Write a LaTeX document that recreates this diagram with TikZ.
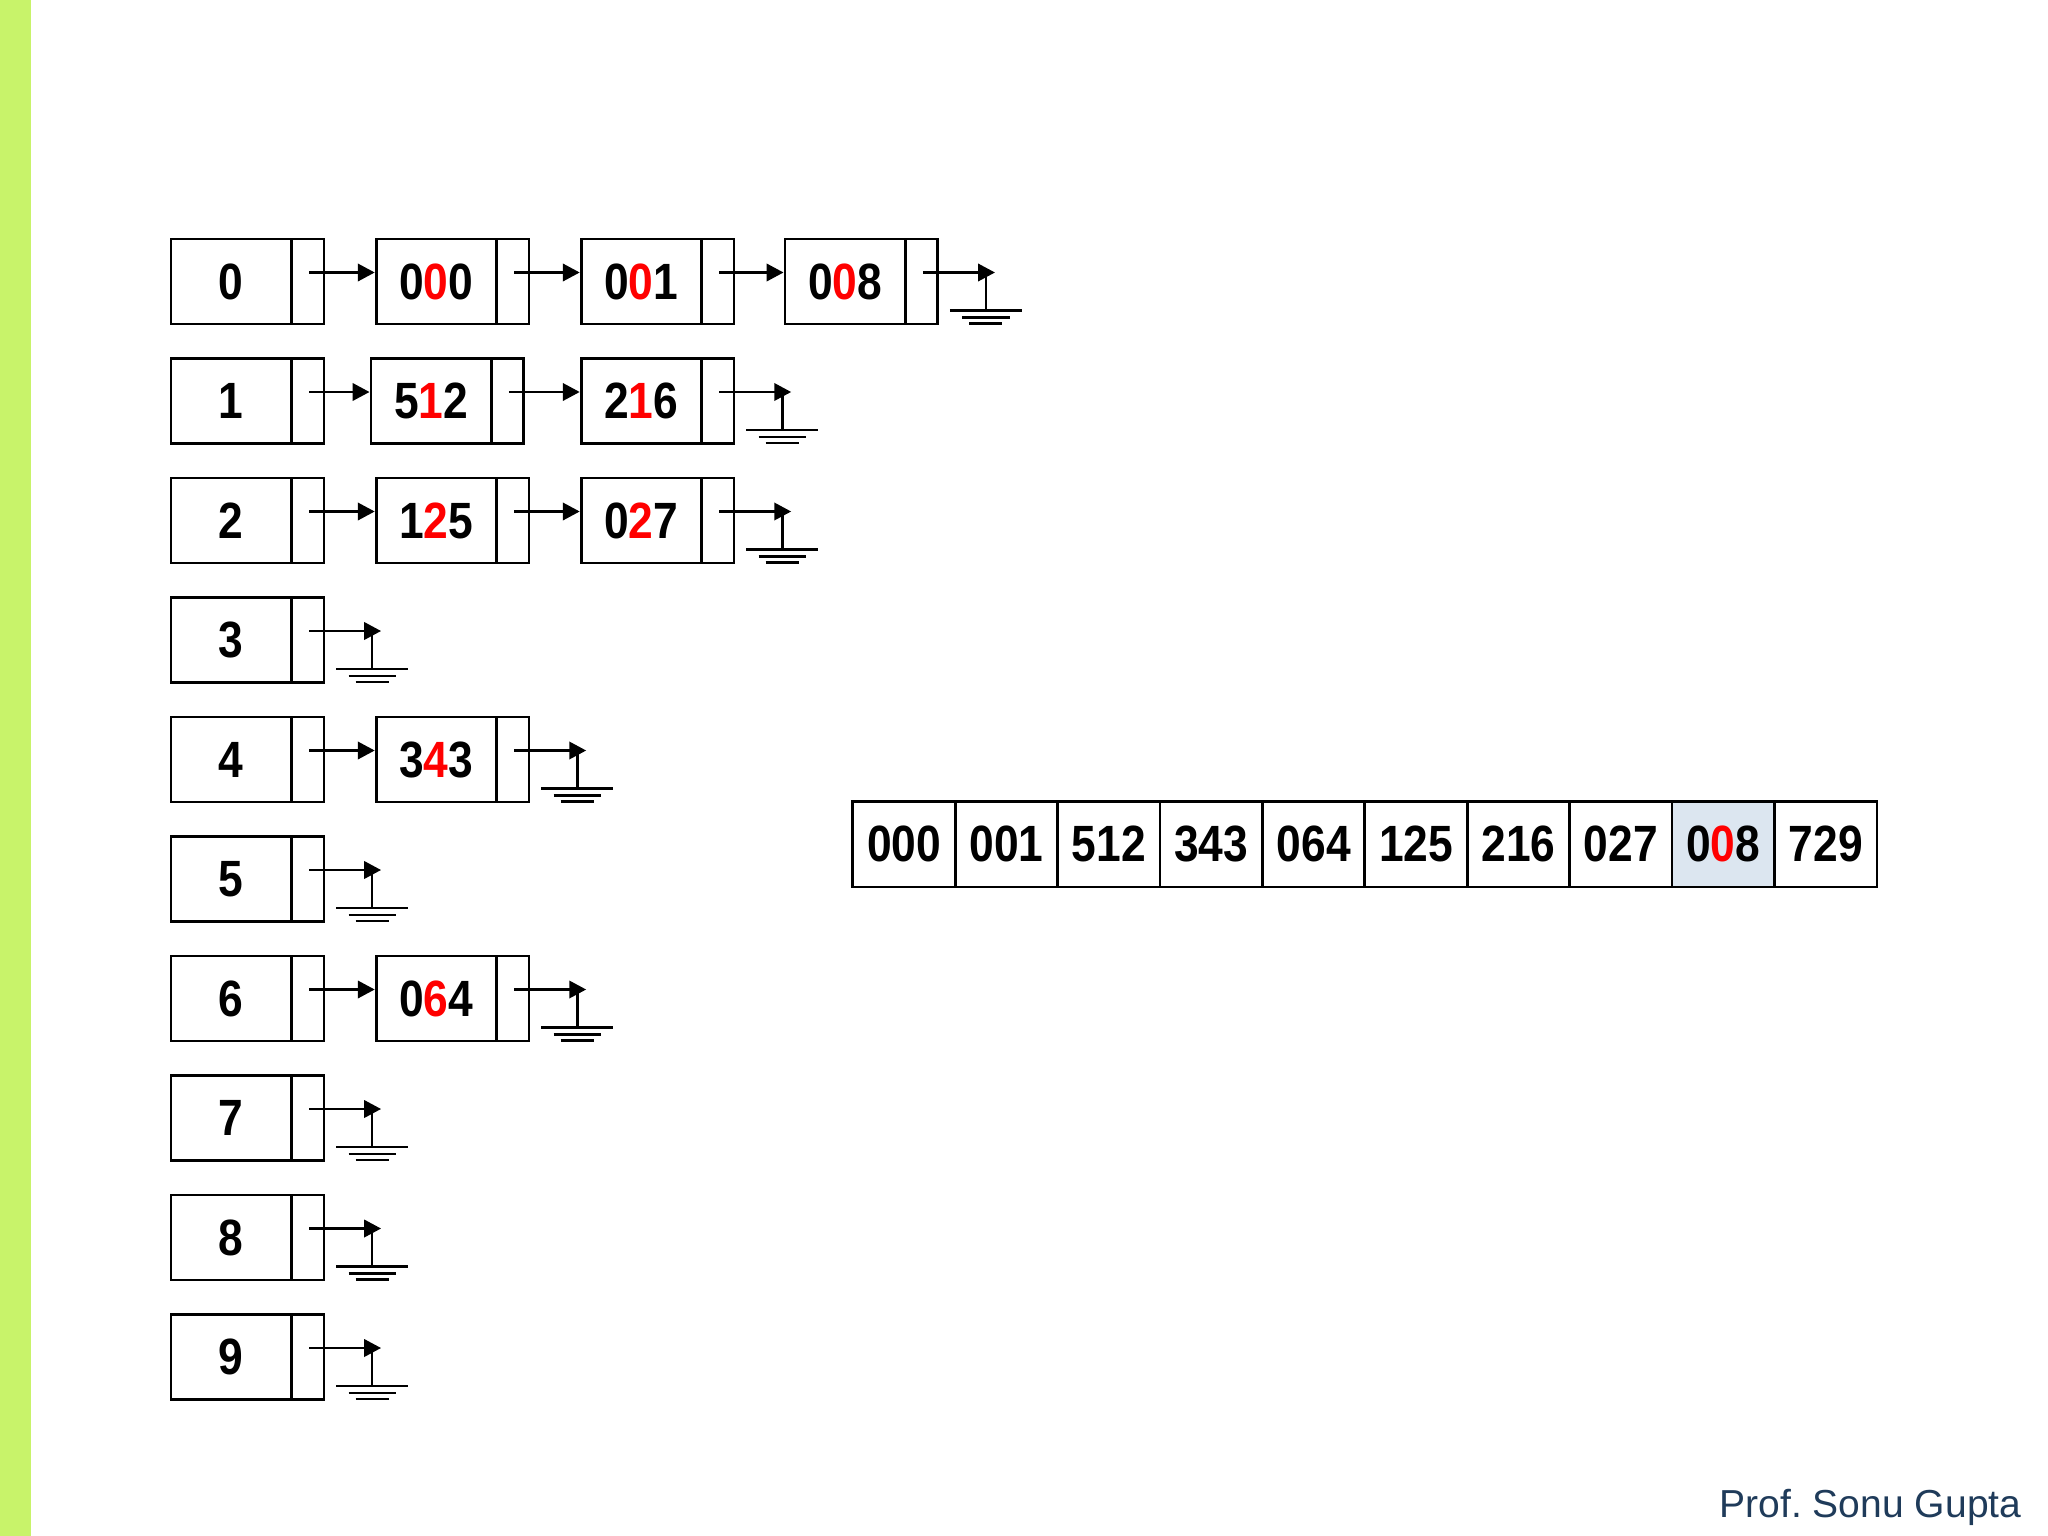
\documentclass[tikz,border=0pt]{standalone}
\usepackage{fontspec}
\usetikzlibrary{arrows.meta, calc}
\newfontfamily\numfont[FakeStretch=0.87]{Liberation Sans}
\newfontfamily\footfont{Liberation Sans}
\definecolor{Lime}  {HTML}{C8F36A}
\definecolor{RedD}  {HTML}{FF0000}
\definecolor{IceF}  {HTML}{DCE6F0}
\definecolor{Slate} {HTML}{1F3B5A}
\newcommand{\rd}[1]{\textcolor{RedD}{#1}}
% data part left, empty pointer part right
\newcommand{\dat}[1]{\makebox[1.202cm]{#1}\kern0.326cm\relax}
% null pointer into a ground symbol
\newcommand{\nil}[1]{%
  \draw[ptr] ([xshift=-0.163cm,yshift=0.09cm]#1.east) -- ++(0.72cm,0) coordinate (#1-g);
  \draw[gnd] ([xshift=-0.09cm]#1-g) -- ++(0,-0.38cm)
    ([xshift=-0.45cm,yshift=-0.38cm]#1-g) -- ++(0.72cm,0)
    ([xshift=-0.325cm,yshift=-0.45cm]#1-g) -- ++(0.47cm,0)
    ([xshift=-0.255cm,yshift=-0.51cm]#1-g) -- ++(0.33cm,0);
}
\tikzset{
  cell/.style={
    rectangle, draw, line width=0.8pt,
    minimum width=1.528cm, minimum height=0.85cm, inner sep=0pt,
    font=\numfont\bfseries\fontsize{14.5}{17}\selectfont,
    path picture={
      \draw[line width=0.8pt]
        ([xshift=-0.326cm]path picture bounding box.north east) --
        ([xshift=-0.326cm]path picture bounding box.south east);
    },
  },
  slot/.style={
    rectangle, draw, line width=0.8pt, fill=#1,
    minimum width=1.024cm, minimum height=0.85cm, inner sep=0pt,
    font=\numfont\bfseries\fontsize{14.5}{17}\selectfont,
  },
  ptr/.style={
    -{Triangle[length=4.8pt,width=4.9pt]},
    line width=0.8pt,
  },
  gnd/.style={line width=0.8pt},
}
\begin{document}
\begin{tikzpicture}[x=0.01cm,y=-0.01cm]
  \useasboundingbox (0,0) rectangle (2048,1536);
  \fill[Lime] (0,0) rectangle (31,1536);

  % buckets
  \foreach \i in {0,...,9}{
    \node[cell] (b\i) at (247.5,{281.5+119.5*\i}) {\dat{\i}};
  }

  % list nodes
  \foreach \nm/\x/\r/\txt in {n00/452.6/0/0\rd{0}0, n01/657.6/0/0\rd{0}1,
                              n02/861.4/0/0\rd{0}8,
                              n10/447.4/1/5\rd{1}2, n11/657.6/1/2\rd{1}6,
                              n20/452.6/2/1\rd{2}5, n21/657.6/2/0\rd{2}7,
                              n40/452.6/4/3\rd{4}3,
                              n60/452.6/6/0\rd{6}4}{
    \node[cell] (\nm) at (\x,{281.5+119.5*\r}) {\dat{\txt}};
  }

  \foreach \a/\b in {b0/n00, n00/n01, n01/n02, b1/n10, n10/n11,
                     b2/n20, n20/n21, b4/n40, b6/n60}{
    \draw[ptr] ([xshift=-0.163cm,yshift=0.09cm]\a.east) -- ([yshift=0.09cm]\b.west);
  }
  \foreach \e in {n02, n11, n21, b3, n40, b5, n60, b7, b8, b9}{
    \nil{\e}
  }

  % collected array
  \foreach \v/\f [count=\k from 0] in {000/white, 001/white, 512/white,
      343/white, 064/white, 125/white, 216/white, 027/white,
      0\rd{0}8/IceF, 729/white}{
    \node[slot=\f] (a\k) at ({904.1+102.4*\k},844.4) {\v};
  }

  \node[font=\footfont\fontsize{11.1}{13}\selectfont, text=Slate,
        anchor=base east, inner sep=0pt] (credit) at (2022,1517) {Prof.\ Sonu Gupta};
\end{tikzpicture}
\end{document}
